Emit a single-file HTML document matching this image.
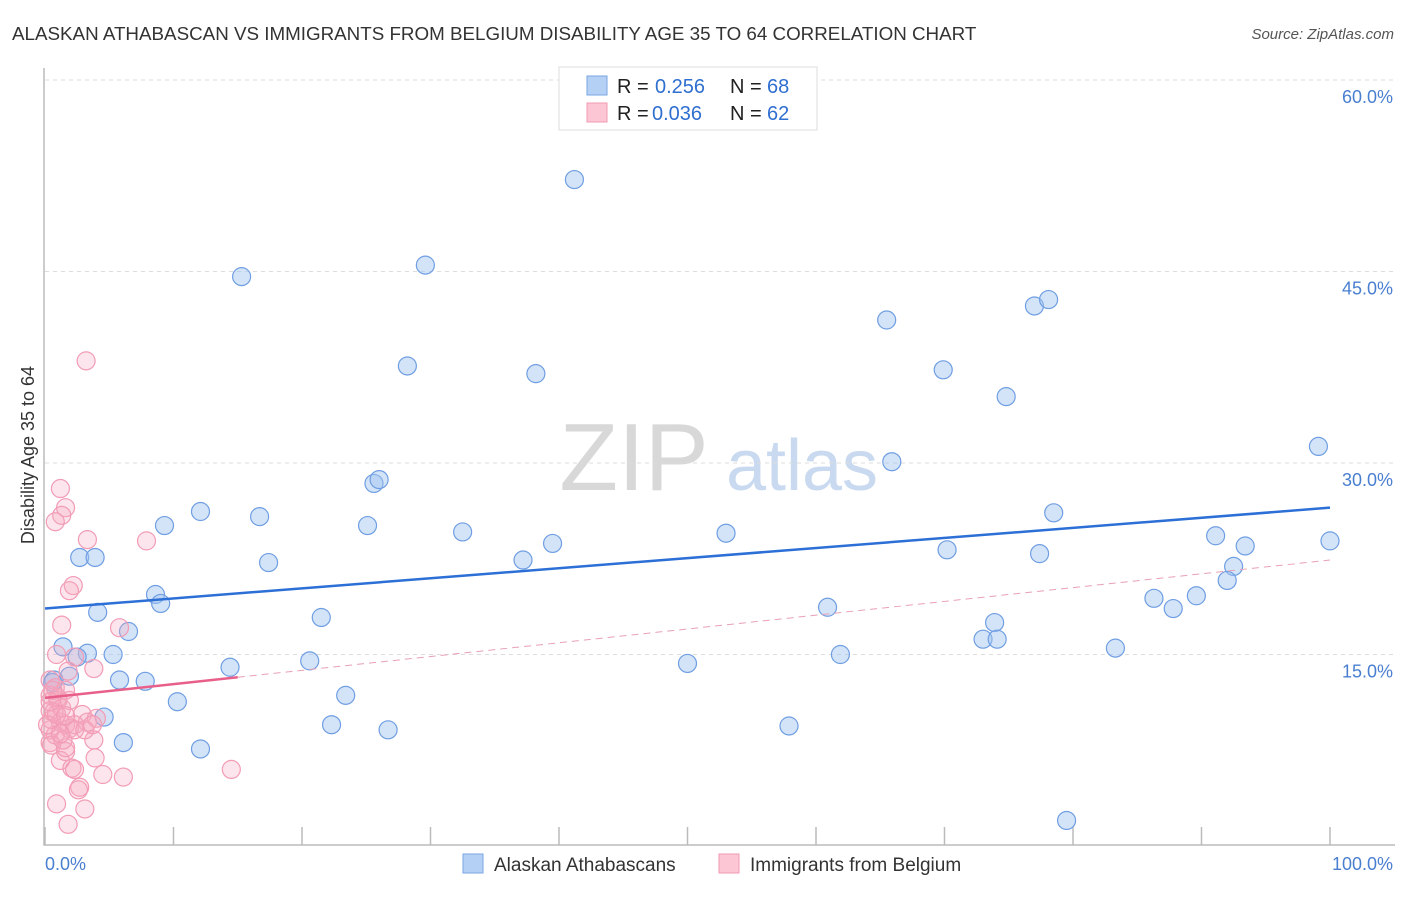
<!DOCTYPE html>
<html><head><meta charset="utf-8"><style>
body{margin:0;background:#fff;font-family:"Liberation Sans",sans-serif;}
svg text{font-family:"Liberation Sans",sans-serif;}
</style></head><body>
<svg id="c" width="1406" height="892" xmlns="http://www.w3.org/2000/svg">
<text x="12" y="40" font-size="18.8" fill="#333">ALASKAN ATHABASCAN VS IMMIGRANTS FROM BELGIUM DISABILITY AGE 35 TO 64 CORRELATION CHART</text>
<text x="1394" y="39" font-size="15" fill="#555" font-style="italic" text-anchor="end">Source: ZipAtlas.com</text>
<g><text x="634" y="490" font-size="96" fill="#d8d8d8" font-family="Liberation Serif" text-anchor="middle">ZIP</text><text x="802" y="490" font-size="72" fill="#c9daf0" text-anchor="middle">atlas</text></g>
<g id="grid"></g><g id="marks"></g>
<text x="34" y="455" font-size="18" fill="#333" text-anchor="middle" transform="rotate(-90 34 455)">Disability Age 35 to 64</text>
<g>
<rect x="559" y="67" width="258" height="63" fill="#fff" stroke="#ddd"/>
<rect x="587" y="76" width="20" height="19" fill="#b5d0f5" stroke="#7aa6e3"/>
<rect x="587" y="103" width="20" height="19" fill="#fcc6d4" stroke="#f19ab2"/>
<text x="617" y="93" font-size="20" fill="#222">R =</text><text x="655" y="93" font-size="20" fill="#2f6fd0">0.256</text>
<text x="730" y="93" font-size="20" fill="#222">N =</text><text x="767" y="93" font-size="20" fill="#2f6fd0">68</text>
<text x="617" y="120" font-size="20" fill="#222">R =</text><text x="652" y="120" font-size="20" fill="#2f6fd0">0.036</text>
<text x="730" y="120" font-size="20" fill="#222">N =</text><text x="767" y="120" font-size="20" fill="#2f6fd0">62</text>
</g>
<g>
<rect x="463" y="854" width="20" height="19" fill="#b5d0f5" stroke="#7aa6e3"/>
<text x="494" y="871" font-size="19" fill="#333">Alaskan Athabascans</text>
<rect x="719" y="854" width="20" height="19" fill="#fcc6d4" stroke="#f19ab2"/>
<text x="750" y="871" font-size="19" fill="#333">Immigrants from Belgium</text>
</g>
</svg>
<script>
const yTicks=[15,30,45,60];
const xTickLabels=["0.0%","100.0%"];
const blueX=[41.2,15.3,29.6,28.2,38.2,65.5,69.9,77.0,78.1,74.8,99.1,65.9,25.6,26.0,12.1,16.7,9.3,25.1,32.5,78.5,39.5,53.0,91.1,93.4,100,70.2,77.4,2.7,3.9,37.2,17.4,92.5,92.0,8.6,9.0,86.3,89.6,87.8,4.1,21.5,60.9,6.5,73.9,73.0,74.1,83.3,1.4,3.3,5.3,2.5,61.9,20.6,50.0,14.4,1.9,0.7,5.8,7.8,23.4,10.3,4.6,22.3,26.7,57.9,6.1,12.1,79.5,0.6];
const blueY=[52.2,44.6,45.5,37.6,37.0,41.2,37.3,42.3,42.8,35.2,31.3,30.1,28.4,28.7,26.2,25.8,25.1,25.1,24.6,26.1,23.7,24.5,24.3,23.5,23.9,23.2,22.9,22.6,22.6,22.4,22.2,21.9,20.8,19.7,19.0,19.4,19.6,18.6,18.3,17.9,18.7,16.8,17.5,16.2,16.2,15.5,15.6,15.1,15.0,14.8,15.0,14.5,14.3,14.0,13.3,13.0,13.0,12.9,11.8,11.3,10.1,9.5,9.1,9.4,8.1,7.6,2.0,12.8];
const pinkX=[3.2,1.2,1.6,1.3,0.8,3.3,7.9,2.2,1.9,1.3,5.8,0.9,2.3,3.8,1.8,0.4,0.8,1.6,0.4,1.0,2.9,4.0,0.5,1.2,1.6,0.4,1.9,0.8,3.8,0.4,2.3,1.2,3.9,2.1,2.3,4.5,6.1,14.5,1.6,2.7,2.6,0.9,3.1,1.8,0.4,0.7,1.3,0.5,1.6,3.3,1.0,1.9,0.6,1.4,0.2,0.9,2.3,3.1,1.2,3.7,0.4,1.6];
const pinkY=[38.0,28.0,26.5,25.9,25.4,24.0,23.9,20.4,20.0,17.3,17.1,15.0,14.8,13.9,13.7,13.0,12.4,12.2,11.8,11.4,10.3,10.0,9.9,9.7,9.5,9.1,9.2,8.7,8.3,8.1,9.5,6.7,6.9,6.1,6.0,5.6,5.4,6.0,7.4,4.6,4.4,3.3,2.9,1.7,10.6,10.5,10.8,7.9,7.7,9.7,11.6,11.4,12.2,8.3,9.5,10.3,9.1,9.1,8.8,9.5,11.3,10.2];
const blueTrend=[18.6,26.5];
const pinkTrend=[11.6,22.4];
const pinkSolidEnd=15;
const X0=45,X1=1330,Y0=846,Y60=80;
const sx=v=>X0+(X1-X0)*v/100, sy=v=>Y0-(Y0-Y60)*v/60;
const NS="http://www.w3.org/2000/svg";
const g=document.getElementById('grid'), m=document.getElementById('marks');
function mk(tag,attrs,parent){const e=document.createElementNS(NS,tag);for(const k in attrs)e.setAttribute(k,attrs[k]);parent.appendChild(e);return e;}
yTicks.forEach(t=>{
 const l=mk('line',{x1:45,x2:1395,y1:sy(t),y2:sy(t),stroke:'#ddd','stroke-dasharray':'4,4'},g);
 
 
 const tx=mk('text',{x:1393,y:sy(t)+23,'font-size':18,fill:'#4a7fd0','text-anchor':'end'},g);
 tx.textContent=t.toFixed(1)+'%';
 
 
});
const ax=mk('path',{d:'M44 68V845H1395',fill:'none',stroke:'#bbb','stroke-width':1.5},g);


for(let i=0;i<=10;i++){
 const t=mk('line',{x1:sx(i*10),x2:sx(i*10),y1:827,y2:845,stroke:'#bbb','stroke-width':1.5},g);
 
 
}
[[45,'start',xTickLabels[0]],[1393,'end',xTickLabels[1]]].forEach(a=>{
 const t=mk('text',{x:a[0],y:870,'font-size':18,fill:'#4a7fd0','text-anchor':a[1]},g);
 t.textContent=a[2];
 
 
});
blueX.forEach((x,i)=>{
 const c=mk('circle',{cx:sx(x),cy:sy(blueY[i]),r:9,fill:'rgba(160,195,240,0.45)',stroke:'#6f9ee2','stroke-width':1.2},m);
 
 
});
pinkX.forEach((x,i)=>{
 const c=mk('circle',{cx:sx(x),cy:sy(pinkY[i]),r:9,fill:'rgba(246,170,192,0.3)',stroke:'#f29cb5','stroke-width':1.2},m);
 
 
});
const pAt=x=>pinkTrend[0]+(pinkTrend[1]-pinkTrend[0])*x/100;
const pd=mk('line',{x1:sx(pinkSolidEnd),y1:sy(pAt(pinkSolidEnd)),x2:sx(100),y2:sy(pinkTrend[1]),stroke:'#e8a0b5','stroke-width':1,'stroke-dasharray':'7,5'},m);


const ps=mk('line',{x1:sx(0),y1:sy(pinkTrend[0]),x2:sx(pinkSolidEnd),y2:sy(pAt(pinkSolidEnd)),stroke:'#e8608a','stroke-width':2.5},m);


const bl=mk('line',{x1:sx(0),y1:sy(blueTrend[0]),x2:sx(100),y2:sy(blueTrend[1]),stroke:'#2c6fd6','stroke-width':2.5},m);


</script>
</body></html>
